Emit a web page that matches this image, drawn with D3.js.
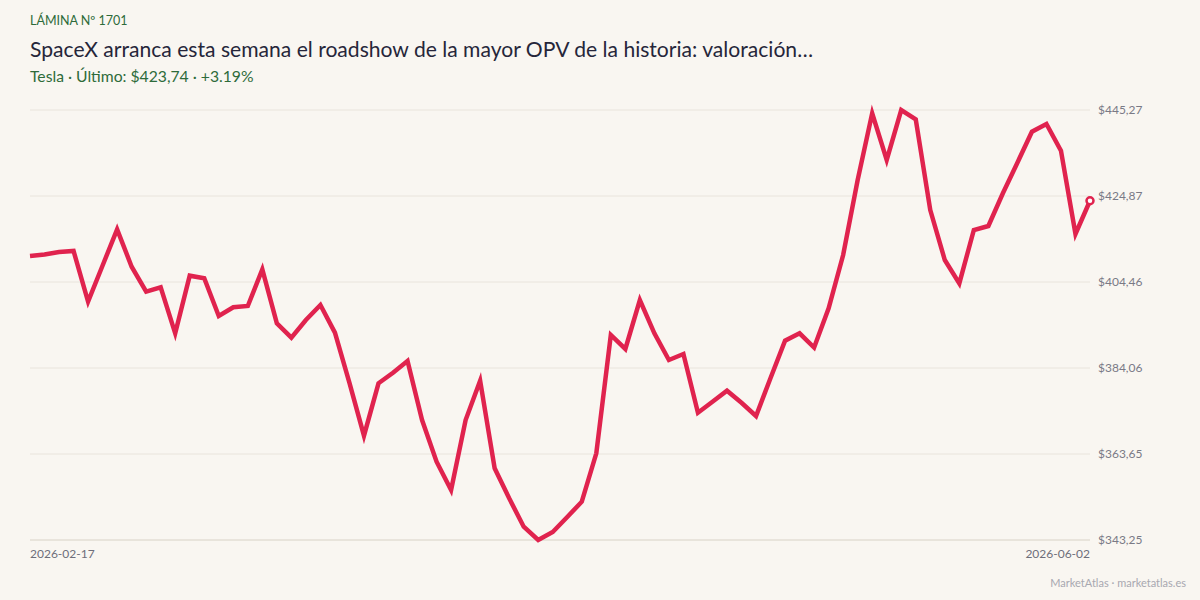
<!DOCTYPE html>
<html>
<head>
<meta charset="utf-8">
<script src="https://cdn.jsdelivr.net/npm/d3@7"></script>
<style>
  html, body { margin: 0; padding: 0; background: #f9f6f1; }
  svg { display: block; font-family: Lato, "Noto Sans", sans-serif; }
</style>
</head>
<body>
<svg id="chart" width="1200" height="600"></svg>
<script>
// Tesla closing prices, one per session
const prices = [
  410.64, 410.99, 411.58, 411.82, 399.79, 408.38, 416.96, 408.09, 402.16, 403.20,
  392.29, 405.96, 405.34, 396.39, 398.46, 398.77, 407.47, 394.66, 391.25, 395.45,
  399.00, 392.43, 380.50, 368.00, 380.43, 382.94, 385.72, 371.72, 361.83, 355.11,
  371.72, 381.04, 360.26, 353.14, 346.41, 343.25, 345.15, 348.71, 352.34, 363.82,
  391.89, 388.57, 400.19, 392.29, 385.96, 387.38, 373.45, 376.06, 378.67, 375.82,
  372.67, 381.69, 390.53, 392.29, 388.92, 398.22, 410.87, 428.66, 444.49, 433.41,
  445.27, 443.06, 421.54, 409.68, 404.15, 416.80, 417.75, 425.51, 432.77, 440.12,
  441.95, 435.61, 415.85, 423.74
];
const dateLabels = ["2026-02-17", "2026-06-02"];
const tickCount = 6;

const svg = d3.select("#chart");
const margin = { top: 110, right: 110, bottom: 60, left: 30 };
const width = 1200 - margin.left - margin.right;
const height = 600 - margin.top - margin.bottom;

const x = d3.scaleLinear()
    .domain([0, prices.length - 1])
    .range([margin.left, margin.left + width]);

const yMin = d3.min(prices), yMax = d3.max(prices);
const y = d3.scaleLinear()
    .domain([yMin, yMax])
    .range([margin.top + height, margin.top]);

const ticks = d3.range(tickCount).map(i => yMin + (yMax - yMin) * i / (tickCount - 1));
const fmt = v => "$" + v.toFixed(2).replace(".", ",");

// header
svg.append("text")
    .attr("x", 30).attr("y", 25)
    .attr("fill", "#2e6b3a")
    .style("font-size", "12.5px")
    .text("LÁMINA Nº 1701");

svg.append("text")
    .attr("x", 30).attr("y", 57)
    .attr("fill", "#26263a")
    .style("font-size", "21.1px")
    .text("SpaceX arranca esta semana el roadshow de la mayor OPV de la historia: valoración…");

svg.append("text")
    .attr("x", 30).attr("y", 82)
    .attr("fill", "#2e6b3a")
    .style("font-size", "15.7px")
    .text("Tesla · Último: $423,74 · +3.19%");

// grid + y labels
const grid = svg.append("g");
grid.selectAll("line")
    .data(ticks)
    .join("line")
    .attr("x1", margin.left)
    .attr("x2", margin.left + width)
    .attr("y1", d => y(d))
    .attr("y2", d => y(d))
    .attr("stroke", (d, i) => i === 0 ? "#d8d2c6" : "#e9e4dc")
    .attr("stroke-width", 1);

grid.selectAll("text")
    .data(ticks)
    .join("text")
    .attr("x", margin.left + width + 8)
    .attr("y", d => y(d))
    .attr("dy", "0.35em")
    .attr("fill", "#7a7a86")
    .style("font-size", "12px")
    .text(fmt);

// x labels
svg.append("text")
    .attr("x", x(0)).attr("y", 558)
    .attr("fill", "#6e6e7a")
    .style("font-size", "12px")
    .text(dateLabels[0]);

svg.append("text")
    .attr("x", x(prices.length - 1)).attr("y", 558)
    .attr("text-anchor", "end")
    .attr("fill", "#6e6e7a")
    .style("font-size", "12px")
    .text(dateLabels[1]);

// line
const line = d3.line()
    .x((d, i) => x(i))
    .y(d => y(d));

svg.append("path")
    .datum(prices)
    .attr("fill", "none")
    .attr("stroke", "#e0234e")
    .attr("stroke-width", 4.5)
    .attr("stroke-linejoin", "miter")
    .attr("d", line);

svg.append("circle")
    .attr("cx", x(prices.length - 1))
    .attr("cy", y(prices[prices.length - 1]))
    .attr("r", 3.5)
    .attr("fill", "#ffffff")
    .attr("stroke", "#e0234e")
    .attr("stroke-width", 2.5);

// footer
svg.append("text")
    .attr("x", 1186).attr("y", 587)
    .attr("text-anchor", "end")
    .attr("fill", "#a8a8b0")
    .style("font-size", "11px")
    .text("MarketAtlas · marketatlas.es");
</script>
</body>
</html>
